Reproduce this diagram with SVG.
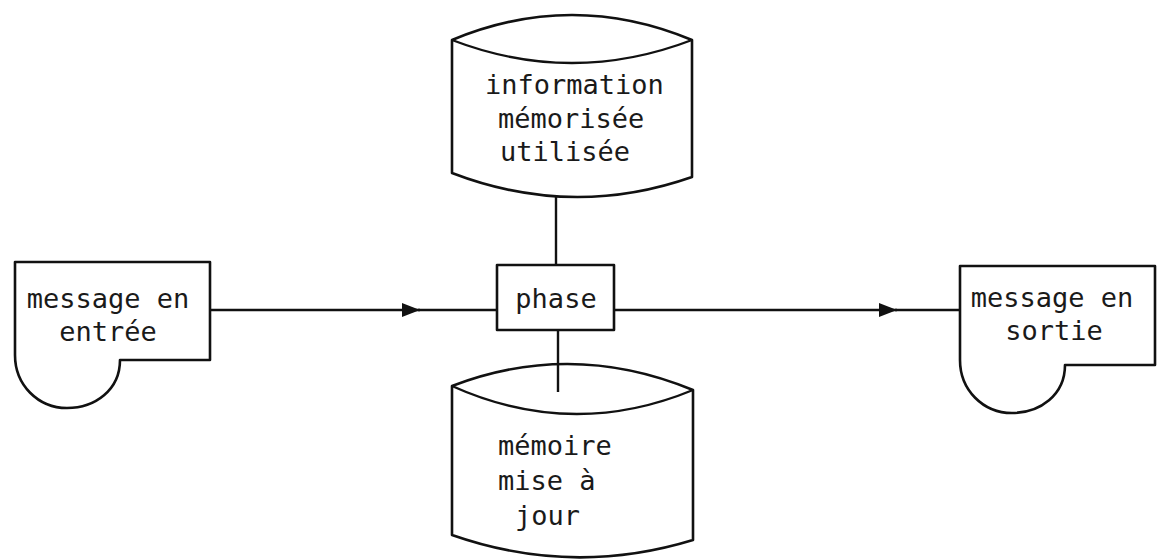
<svg xmlns="http://www.w3.org/2000/svg" width="1163" height="559" viewBox="0 0 1163 559">
<style>
.s{fill:#fff;stroke:#111;stroke-width:2.6;stroke-linejoin:round}
.c{fill:none;stroke:#111;stroke-width:2.4}
.t{font-family:"DejaVu Sans Mono","Liberation Mono",monospace;font-size:27px;fill:#1a1a1a}
.m{text-anchor:middle}
</style>
<defs>
<marker id="ah" markerUnits="userSpaceOnUse" markerWidth="20" markerHeight="16" refX="18" refY="7" orient="auto">
<path d="M0,0 L18,7 L0,14 Z" fill="#111"/>
</marker>
</defs>
<rect width="1163" height="559" fill="#fff"/>
<g id="entree">
<path class="s" d="M15,262 H210 V360 H120 C120,390 95,408 67,408 C38,408 15,385 15,355 Z"/>
<text class="t m" x="108" y="308">message en</text>
<text class="t m" x="108" y="341">entrée</text>
</g>
<g id="info">
<path class="s" d="M452,40 Q572,-10 692,40 V177 Q572,219 452,173 Z"/>
<path class="c" d="M452,40 Q572,86 692,40"/>
<text class="t" x="485" y="94">information</text>
<text class="t" x="498" y="128">mémorisée</text>
<text class="t" x="500" y="161">utilisée</text>
</g>
<g id="phase">
<rect class="s" x="497" y="265" width="117" height="65"/>
<text class="t m" x="556" y="308">phase</text>
</g>
<g id="memoire">
<path class="s" d="M452,386 Q572,340 693,390 V540 Q572,577 452,535 Z"/>
<path class="c" d="M452,386 Q572,440 693,390"/>
<text class="t" x="498" y="455">mémoire</text>
<text class="t" x="498" y="490">mise à</text>
<text class="t" x="515" y="525">jour</text>
</g>
<g id="sortie">
<path class="s" d="M960,266 H1155 V365 H1065 C1065,395 1040,413 1012,413 C983,413 960,390 960,360 Z"/>
<text class="t m" x="1052" y="307">message en</text>
<text class="t m" x="1054" y="340">sortie</text>
</g>
<g id="connectors">
<path class="c" d="M210,310 H420" marker-end="url(#ah)"/>
<path class="c" d="M418,310 H497"/>
<path class="c" d="M614,310 H897" marker-end="url(#ah)"/>
<path class="c" d="M895,310 H960"/>
<path class="c" d="M556,197 V265"/>
<path class="c" d="M558,330 V392"/>
</g>
</svg>
